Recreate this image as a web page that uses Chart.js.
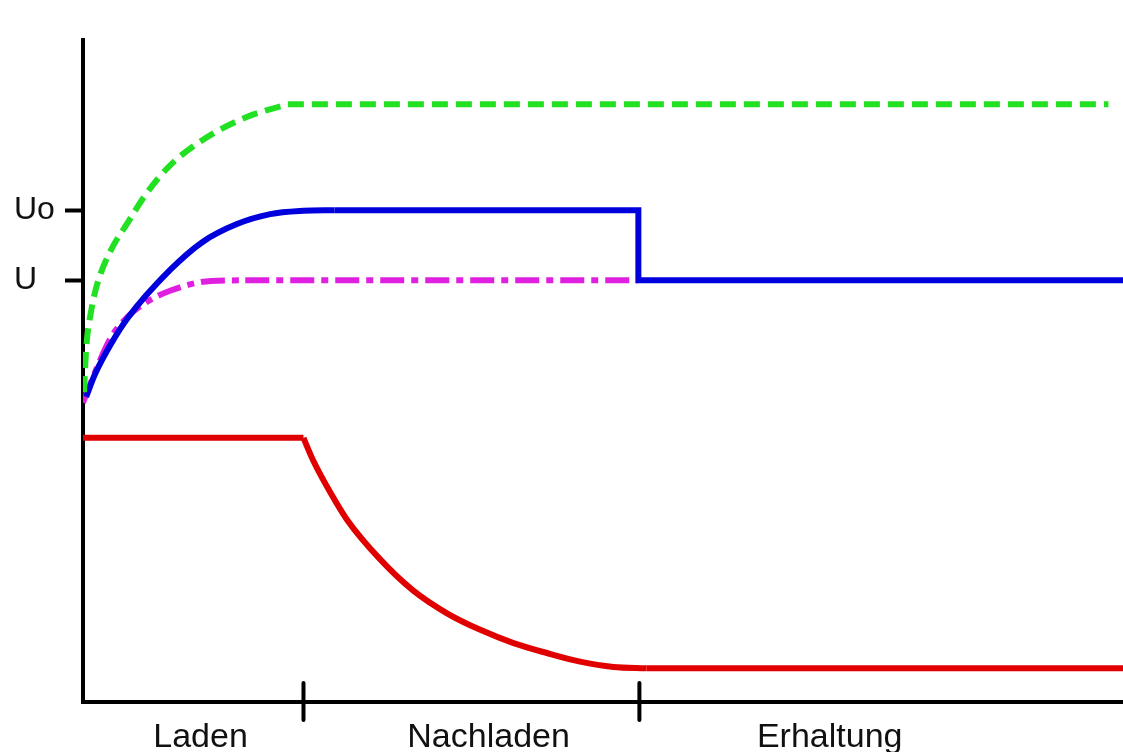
<!DOCTYPE html>
<html>
<head>
<meta charset="utf-8">
<script src="https://cdn.jsdelivr.net/npm/chart.js@4"></script>
<style>
  body { margin: 0; background: #fff; }
  #ladeChart { display: block; }
</style>
</head>
<body>
<canvas id="ladeChart" width="1123" height="752"></canvas>
<script>
// Phasen (x-Achse, Zeit 0..100)
const phaseNames = ["Laden", "Nachladen", "Erhaltung"];
const phaseCenters = [11.3, 39.0, 71.8];
const phaseBounds = [21.2, 53.5];

// Spannungsmarken (y-Achse 0..100)
const yTickLabels = ["U", "Uo"];
const yTickVals = [63.7, 74.3];

// gruen gestrichelt
const greenX = [0.1, 0.3, 0.8, 1.4, 2.7, 4.3, 6.0, 8.4, 11.5, 15.8, 19.7, 98.6];
const greenY = [46.8, 53.2, 59.2, 63.3, 68.3, 72.4, 76.6, 81.1, 84.9, 88.4, 90.3, 90.3];

// blau (Spannung)
const blueX = [0.3, 1.15, 2.7, 4.3, 8.4, 11.5, 14.8, 18.0, 21.2, 24.2, 53.4, 53.4, 100];
const blueY = [46.1, 49.5, 54.1, 58.0, 65.3, 69.5, 72.2, 73.7, 74.2, 74.3, 74.3, 63.7, 63.7];

// magenta strich-punkt
const magX = [0, 1.15, 2.7, 4.3, 6.0, 8.5, 12.3, 15.6, 53.4];
const magY = [45.2, 49.8, 55.1, 58.2, 60.3, 62.2, 63.6, 63.7, 63.7];

// rot (Strom)
const redX = [0, 21.2, 22.1, 23.8, 25.4, 28.6, 31.7, 35.0, 38.2, 41.4, 44.6, 47.8, 51.0, 54.2, 100];
const redY = [39.9, 39.9, 36.6, 31.6, 27.5, 21.5, 16.9, 13.4, 10.9, 8.9, 7.4, 6.1, 5.3, 5.1, 5.1];

function toPoints(xs, ys) {
    return xs.map((x, i) => ({ x: x, y: ys[i] }));
}

// Kurvenstueck glatt (monotone), Rest gerade
function makeSeries(xs, ys, from, to, style) {
    const pts = toPoints(xs, ys);
    const base = Object.assign({ pointRadius: 0, fill: false, borderWidth: 6 }, style);
    const out = [];
    if (from > 0) out.push(Object.assign({}, base, { data: pts.slice(0, from + 1), tension: 0 }));
    out.push(Object.assign({}, base, { data: pts.slice(from, to + 1), cubicInterpolationMode: "monotone" }));
    if (to < pts.length - 1) out.push(Object.assign({}, base, { data: pts.slice(to), tension: 0 }));
    return out;
}

// Markierungen an den Phasengrenzen (kreuzen die x-Achse)
const phaseMarks = {
    id: "phaseMarks",
    afterDraw(chart) {
        const ctx = chart.ctx;
        const xs = chart.scales.x;
        const yPix = chart.chartArea.bottom;
        ctx.save();
        ctx.strokeStyle = "#000";
        ctx.lineWidth = 4;
        ctx.lineCap = "round";
        phaseBounds.forEach(b => {
            const px = xs.getPixelForValue(b);
            ctx.beginPath();
            ctx.moveTo(px, yPix - 19);
            ctx.lineTo(px, yPix + 18);
            ctx.stroke();
        });
        ctx.restore();
    }
};

const datasets = [].concat(
    makeSeries(redX, redY, 1, 13, { borderColor: "#e00000" }),
    makeSeries(greenX, greenY, 0, 10, { borderColor: "#22e022", borderDash: [16, 8] }),
    makeSeries(blueX, blueY, 0, 9, { borderColor: "#0000dd" }),
    makeSeries(magX, magY, 0, 7, { borderColor: "#e020e0", borderDash: [24, 7, 7, 7] })
);

const ctx = document.getElementById("ladeChart").getContext("2d");
new Chart(ctx, {
    type: "line",
    data: { datasets: datasets },
    options: {
        responsive: false,
        animation: false,
        layout: { padding: { top: 40, left: 14, right: 0, bottom: 0 } },
        plugins: { legend: { display: false }, tooltip: { enabled: false } },
        scales: {
            x: {
                type: "linear",
                min: 0,
                max: 100,
                afterBuildTicks: s => { s.ticks = phaseCenters.map(v => ({ value: v })); },
                afterFit: s => { s.height = 50; },
                grid: { display: false, drawTicks: false },
                border: { display: true, color: "#000", width: 4 },
                ticks: {
                    autoSkip: false,
                    maxRotation: 0,
                    padding: 15,
                    color: "#111",
                    font: { family: "'Liberation Sans', Arial, sans-serif", size: 34 },
                    callback: (v, i) => phaseNames[i],
                },
            },
            y: {
                type: "linear",
                min: 0,
                max: 100,
                afterBuildTicks: s => { s.ticks = yTickVals.map(v => ({ value: v })); },
                afterFit: s => { s.width = 69; },
                grid: { drawOnChartArea: false, drawTicks: true, tickLength: 18, tickWidth: 4, color: "#000" },
                border: { display: true, color: "#000", width: 4 },
                ticks: {
                    autoSkip: false,
                    crossAlign: "far",
                    padding: 6,
                    color: "#111",
                    font: { family: "'Liberation Sans', Arial, sans-serif", size: 32 },
                    callback: (v, i) => yTickLabels[i],
                },
            },
        },
    },
    plugins: [phaseMarks],
});
</script>
</body>
</html>
